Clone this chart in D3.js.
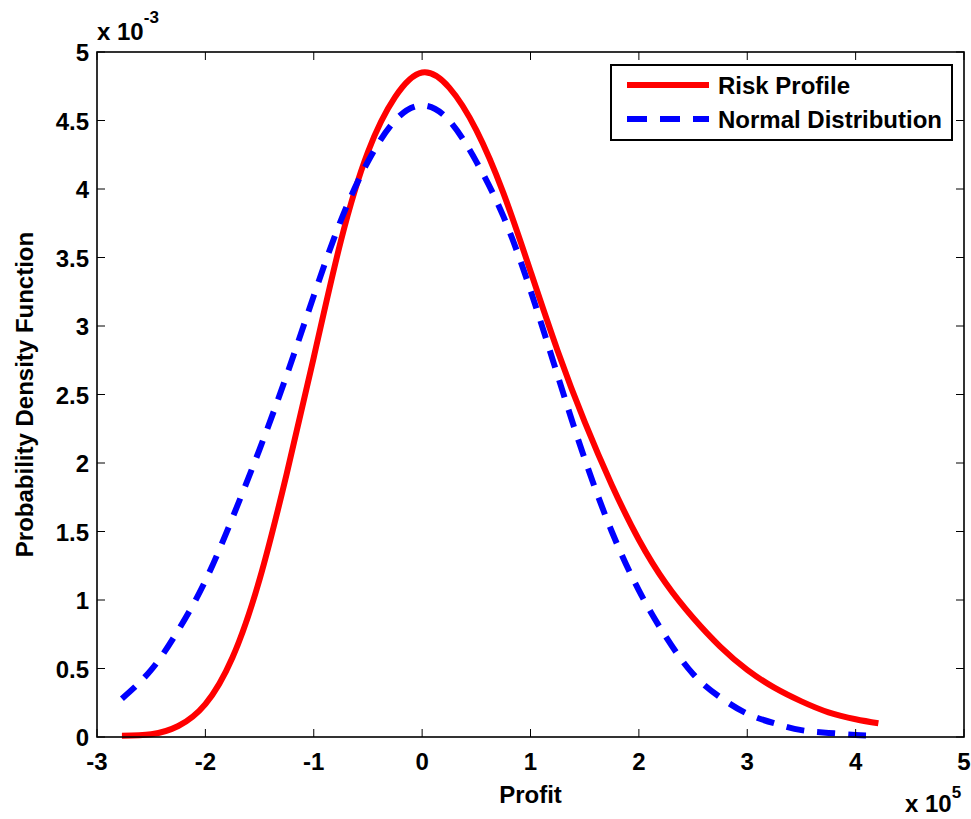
<!DOCTYPE html>
<html>
<head>
<meta charset="utf-8">
<script src="https://cdn.jsdelivr.net/npm/d3@7"></script>
<style>
  body { margin: 0; background: #fff; }
  text { font-family: "Liberation Sans", Arial, Helvetica, sans-serif; font-weight: bold; fill: #000; }
</style>
</head>
<body>
<div id="chart"></div>
<script>
// Profit values (x 10^5) and densities (x 10^-3)
let riskX = [-2.77, -2.5, -2.25, -2, -1.75, -1.5, -1.25, -1, -0.75, -0.5, -0.25, 0,
  0.25, 0.5, 0.75, 1, 1.25, 1.5, 1.75, 2, 2.25, 2.5, 2.75, 3, 3.25, 3.5, 3.75, 4, 4.21];
let riskY = [0.01, 0.02, 0.08, 0.24, 0.58, 1.15, 1.92, 2.77, 3.62, 4.27, 4.67, 4.85,
  4.74, 4.43, 3.97, 3.40, 2.82, 2.30, 1.84, 1.44, 1.12, 0.87, 0.66, 0.49, 0.36, 0.26, 0.18, 0.13, 0.10];

let normX = [-2.77, -2.5, -2.25, -2, -1.75, -1.5, -1.25, -1, -0.75, -0.5, -0.25, 0,
  0.25, 0.5, 0.75, 1, 1.25, 1.5, 1.75, 2, 2.25, 2.5, 2.75, 3, 3.25, 3.5, 3.75, 4, 4.18];
let normY = [0.28, 0.49, 0.78, 1.14, 1.6, 2.1, 2.64, 3.22, 3.77, 4.2, 4.5, 4.61,
  4.5, 4.2, 3.8, 3.26, 2.64, 2.03, 1.5, 1.07, 0.73, 0.46, 0.29, 0.17, 0.10, 0.05, 0.03, 0.015, 0.01];

let xTicks = [-3, -2, -1, 0, 1, 2, 3, 4, 5];
let yTicks = [0, 0.5, 1, 1.5, 2, 2.5, 3, 3.5, 4, 4.5, 5];
let seriesNames = ["Risk Profile", "Normal Distribution"];

let width = 971, height = 819;
let plotL = 97, plotR = 964, plotT = 52, plotB = 737;
let tickLen = 8;

let svg = d3.select("#chart").append("svg")
  .attr("width", width)
  .attr("height", height);

let x = d3.scaleLinear().domain([-3, 5]).range([plotL, plotR]);
let y = d3.scaleLinear().domain([0, 5]).range([plotB, plotT]);

// curves
let line = d3.line()
  .x(d => x(d[0]))
  .y(d => y(d[1]))
  .curve(d3.curveNatural);

let riskData = riskX.map((v, i) => [v, riskY[i]]);
let normData = normX.map((v, i) => [v, normY[i]]);

svg.append("path")
  .attr("d", line(riskData))
  .attr("fill", "none")
  .attr("stroke", "#ff0000")
  .attr("stroke-width", 6);

svg.append("path")
  .attr("d", line(normData))
  .attr("fill", "none")
  .attr("stroke", "#0000ff")
  .attr("stroke-width", 6)
  .attr("stroke-dasharray", "18,13");

// axes box with inward ticks on all four sides
let axisG = svg.append("g");
axisG.append("rect")
  .attr("x", plotL).attr("y", plotT)
  .attr("width", plotR - plotL).attr("height", plotB - plotT)
  .attr("fill", "none").attr("stroke", "#000").attr("stroke-width", 1.6);

axisG.selectAll(".xtb").data(xTicks).enter().append("line")
  .attr("x1", d => x(d)).attr("x2", d => x(d))
  .attr("y1", plotB).attr("y2", plotB - tickLen)
  .attr("stroke", "#000").attr("stroke-width", 1);
axisG.selectAll(".xtt").data(xTicks).enter().append("line")
  .attr("x1", d => x(d)).attr("x2", d => x(d))
  .attr("y1", plotT).attr("y2", plotT + tickLen)
  .attr("stroke", "#000").attr("stroke-width", 1);
axisG.selectAll(".ytl").data(yTicks).enter().append("line")
  .attr("x1", plotL).attr("x2", plotL + tickLen)
  .attr("y1", d => y(d)).attr("y2", d => y(d))
  .attr("stroke", "#000").attr("stroke-width", 1);
axisG.selectAll(".ytr").data(yTicks).enter().append("line")
  .attr("x1", plotR).attr("x2", plotR - tickLen)
  .attr("y1", d => y(d)).attr("y2", d => y(d))
  .attr("stroke", "#000").attr("stroke-width", 1);

axisG.selectAll(".xl").data(xTicks).enter().append("text")
  .attr("x", d => x(d))
  .attr("y", plotB + 33)
  .attr("text-anchor", "middle")
  .attr("font-size", 24)
  .text(d => d);

axisG.selectAll(".yl").data(yTicks).enter().append("text")
  .attr("x", plotL - 8)
  .attr("y", d => y(d) + 9)
  .attr("text-anchor", "end")
  .attr("font-size", 24)
  .text(d => d);

// exponent labels
let ex = svg.append("text").attr("x", plotL).attr("y", 40).attr("font-size", 24);
ex.append("tspan").text("x 10");
ex.append("tspan").attr("dy", -17).attr("font-size", 17).text("-3");

let ex2 = svg.append("text").attr("x", 905).attr("y", 812).attr("font-size", 24);
ex2.append("tspan").text("x 10");
ex2.append("tspan").attr("dy", -14).attr("font-size", 17).text("5");

// axis titles
svg.append("text")
  .attr("x", (plotL + plotR) / 2)
  .attr("y", 803)
  .attr("text-anchor", "middle")
  .attr("font-size", 24)
  .text("Profit");

svg.append("text")
  .attr("transform", "translate(33," + ((plotT + plotB) / 2) + ") rotate(-90)")
  .attr("text-anchor", "middle")
  .attr("font-size", 24)
  .text("Probability Density Function");

// legend
let legend = svg.append("g");
legend.append("rect")
  .attr("x", 611).attr("y", 65)
  .attr("width", 341).attr("height", 75)
  .attr("fill", "#fff").attr("stroke", "#000").attr("stroke-width", 2);

let legendStyles = [
  { color: "#ff0000", dash: null },
  { color: "#0000ff", dash: "20,13" }
];

seriesNames.forEach((name, i) => {
  let ly = 85 + i * 34;
  legend.append("line")
    .attr("x1", 627).attr("x2", 709)
    .attr("y1", ly).attr("y2", ly)
    .attr("stroke", legendStyles[i].color)
    .attr("stroke-width", 6)
    .attr("stroke-dasharray", legendStyles[i].dash);
  legend.append("text")
    .attr("x", 718)
    .attr("y", ly + 9)
    .attr("font-size", 24)
    .text(name);
});
</script>
</body>
</html>
